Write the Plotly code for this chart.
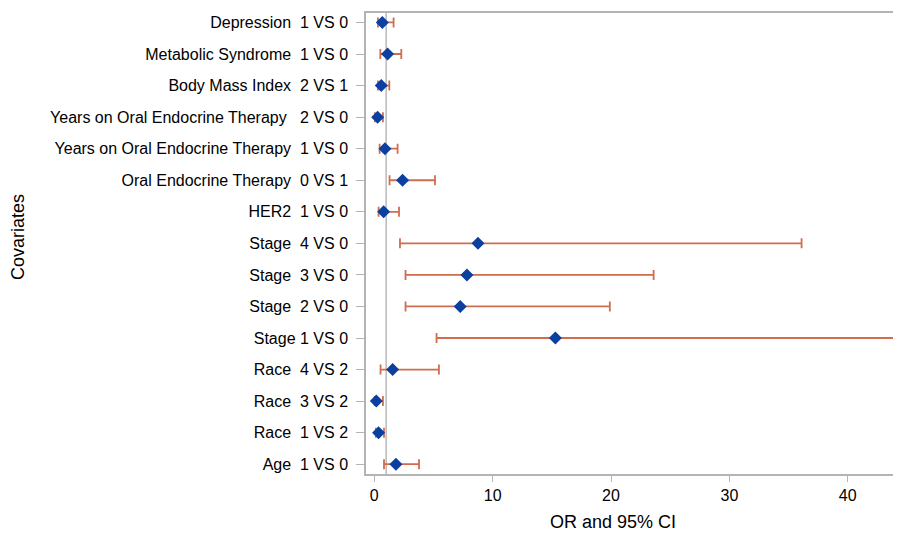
import plotly.graph_objects as go

labels = [
    "Depression\u00a0\u00a01 VS 0",
    "Metabolic Syndrome\u00a0\u00a01 VS 0",
    "Body Mass Index\u00a0\u00a02 VS 1",
    "Years on Oral Endocrine Therapy\u00a0\u00a0\u00a02 VS 0",
    "Years on Oral Endocrine Therapy\u00a0\u00a01 VS 0",
    "Oral Endocrine Therapy\u00a0\u00a00 VS 1",
    "HER2\u00a0\u00a01 VS 0",
    "Stage\u00a0\u00a04 VS 0",
    "Stage\u00a0\u00a03 VS 0",
    "Stage\u00a0\u00a02 VS 0",
    "Stage 1 VS 0",
    "Race\u00a0\u00a04 VS 2",
    "Race\u00a0\u00a03 VS 2",
    "Race\u00a0\u00a01 VS 2",
    "Age\u00a0\u00a01 VS 0",
]
odds_ratio = [0.68, 1.12, 0.59, 0.28, 0.90, 2.39, 0.79, 8.76, 7.83, 7.26, 15.3, 1.55, 0.17, 0.36, 1.83]
ci_low = [0.31, 0.51, 0.31, 0.05, 0.45, 1.29, 0.36, 2.17, 2.64, 2.64, 5.26, 0.53, 0.03, 0.13, 0.82]
ci_high = [1.63, 2.28, 1.27, 0.73, 1.97, 5.13, 2.09, 36.1, 23.6, 19.9, 50.0, 5.46, 0.73, 0.82, 3.78]
x_ticks = [0, 10, 20, 30, 40]

n = len(labels)
ypos = [n - 1 - i for i in range(n)]
err_plus = [h - o for h, o in zip(ci_high, odds_ratio)]
err_minus = [o - l for o, l in zip(odds_ratio, ci_low)]

FONT = "Liberation Sans, Arial, Helvetica, sans-serif"
AX_GRAY = "#b4b4b4"

# page offset of 8px (body margin)
W, H = 893, 529
L, R, T, B = 358, 0, 5, 63
PW, PH = W - L - R, H - T - B

fig = go.Figure()
fig.add_trace(go.Scatter(
    x=odds_ratio, y=ypos, mode="markers",
    marker=dict(symbol="diamond", size=10, color="#0b3fa0", line=dict(width=0)),
    error_x=dict(type="data", symmetric=False, array=err_plus, arrayminus=err_minus,
                 color="#cf6e4e", thickness=1.8, width=5),
    showlegend=False, hoverinfo="skip",
))

fig.add_shape(type="line", xref="x", yref="paper", x0=1, x1=1, y0=0, y1=1,
              line=dict(color="#a8a8a8", width=1.2), layer="below")

fig.update_layout(
    width=W, height=H,
    margin=dict(l=L, r=R, t=T, b=B),
    paper_bgcolor="white", plot_bgcolor="white",
    font=dict(family=FONT, size=16, color="black"),
    xaxis=dict(range=[-0.7, 44.5], tickvals=x_ticks, ticktext=[str(t) for t in x_ticks],
               showgrid=False, zeroline=False, showline=True, linecolor=AX_GRAY, linewidth=1.5,
               mirror=True, ticks="outside", ticklen=6, tickcolor=AX_GRAY, tickwidth=1,
               tickfont=dict(size=16)),
    yaxis=dict(range=[-0.31, 14.3], tickvals=ypos, ticktext=labels,
               showgrid=False, zeroline=False, showline=True, linecolor=AX_GRAY, linewidth=1.5,
               ticks="outside", ticklen=8, tickcolor=AX_GRAY, tickwidth=1,
               ticklabelstandoff=5, tickfont=dict(size=16)),
    annotations=[
        dict(text="OR and 95% CI", xref="paper", yref="paper", x=(613 - 8 - L) / PW,
             y=-(521.7 - 8 - (T + PH)) / PH, xanchor="center", yanchor="middle",
             showarrow=False, font=dict(size=18)),
        dict(text="Covariates", xref="paper", yref="paper", x=-(L - (18 - 8)) / PW,
             y=((T + PH) - (237 - 8)) / PH, xanchor="center", yanchor="middle", textangle=-90,
             showarrow=False, font=dict(size=18)),
    ],
)

fig.write_html("out.html")
